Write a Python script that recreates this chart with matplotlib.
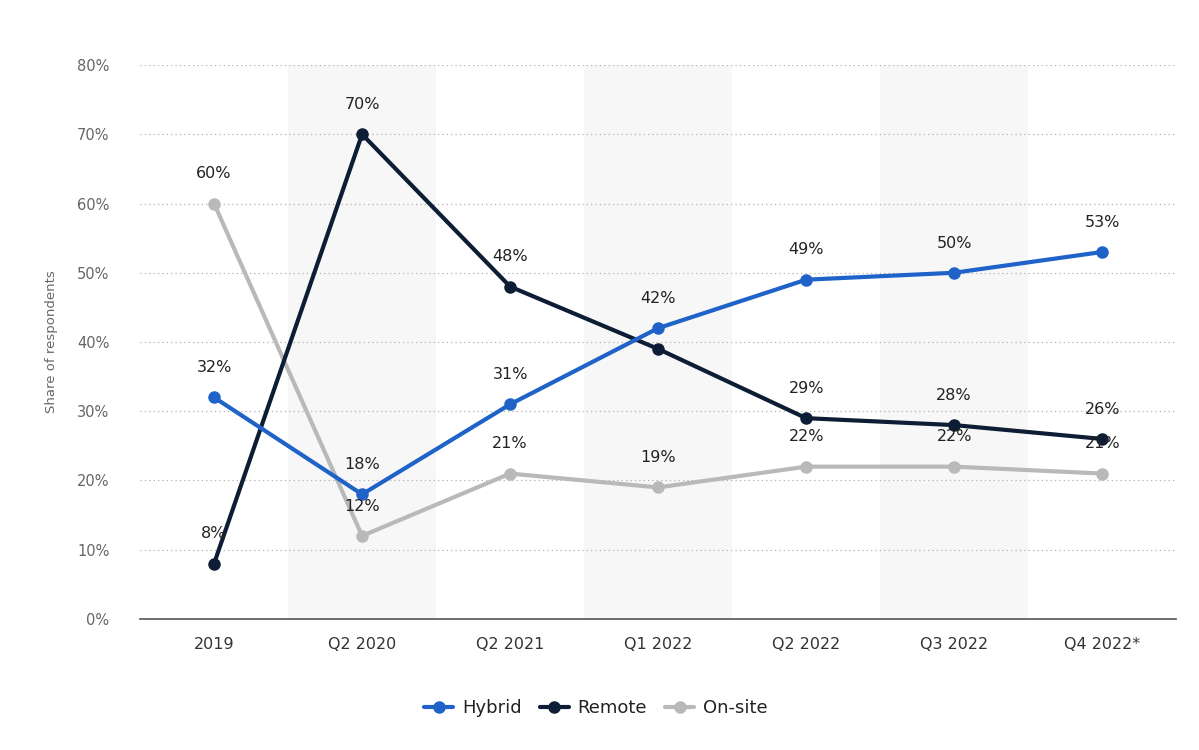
import matplotlib.pyplot as plt
import numpy as np

# --- data ---
categories = ["2019", "Q2 2020", "Q2 2021", "Q1 2022", "Q2 2022", "Q3 2022", "Q4 2022*"]
hybrid = [32, 18, 31, 42, 49, 50, 53]
remote = [8, 70, 48, 39, 29, 28, 26]
onsite = [60, 12, 21, 19, 22, 22, 21]

# labels shown on the chart (Remote 39% has no label)
hybrid_labels = [True] * 7
remote_labels = [True, True, True, False, True, True, True]
onsite_labels = [True] * 7

colors = {"Hybrid": "#1f63c9", "Remote": "#0e1d36", "On-site": "#b9b9b9"}

fig = plt.figure(figsize=(11.99, 7.5), dpi=100)
ax = fig.add_axes([0.1168, 0.1747, 0.8642, 0.7386])

x = np.arange(len(categories))

# alternating shaded bands
for i in range(len(categories)):
    if i % 2 == 1:
        ax.axvspan(i - 0.5, i + 0.5, color="#f7f7f7", zorder=0, lw=0)

# dotted grid
for v in range(10, 90, 10):
    ax.axhline(v, color="#b0b0b0", lw=0.9, ls=(0, (1, 2.5)), zorder=1)

series = [("Hybrid", hybrid, hybrid_labels),
          ("Remote", remote, remote_labels),
          ("On-site", onsite, onsite_labels)]

for zo, (name, vals, show) in zip([4, 3, 2], series):
    ax.plot(x, vals, color=colors[name], lw=3, marker="o", markersize=8,
            label=name, zorder=zo, solid_capstyle="round")

for name, vals, show in series:
    for xi, v, s in zip(x, vals, show):
        if s:
            ax.annotate(f"{v}%", (xi, v), xytext=(0, 16), textcoords="offset points",
                        ha="center", va="bottom", fontsize=11.5, color="#222222", zorder=6)

ax.set_xlim(-0.5, len(categories) - 0.5)
ax.set_ylim(0, 80)
ax.set_yticks(range(0, 90, 10))
ax.set_yticklabels([f"{v}%" for v in range(0, 90, 10)])
ax.set_xticks(x)
ax.set_xticklabels(categories)

for side in ["top", "right", "left"]:
    ax.spines[side].set_visible(False)
ax.spines["bottom"].set_color("#555555")
ax.spines["bottom"].set_linewidth(1.2)
ax.tick_params(axis="y", length=0, pad=22, labelsize=10.5, labelcolor="#666666")
ax.tick_params(axis="x", length=0, pad=13, labelsize=11.5, labelcolor="#333333")
ax.set_ylabel("Share of respondents", fontsize=9.5, color="#666666", labelpad=14)

ax.legend(loc="upper center", bbox_to_anchor=(0.44, -0.115), ncol=3, frameon=False,
          fontsize=13, handlelength=1.6, columnspacing=1.0, handletextpad=0.5,
          labelcolor="#222222", prop={"size": 13, "weight": "medium"})

ax.set_axisbelow(True)
fig.savefig("out.png", dpi=100)
